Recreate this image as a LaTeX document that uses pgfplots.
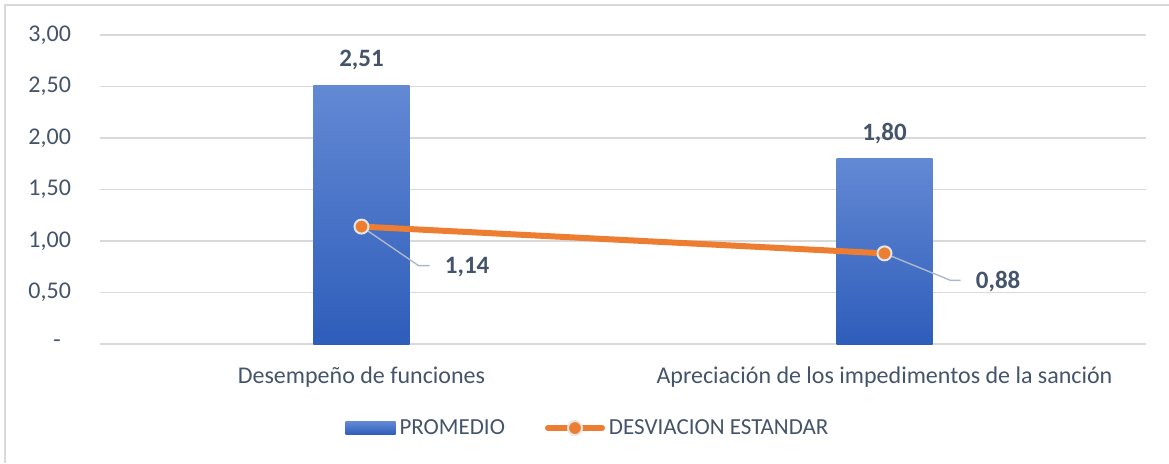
\documentclass[border=0pt]{standalone}
\usepackage{pgfplots}
\pgfplotsset{compat=1.18}
\usepackage{fontspec}
\setmainfont{Carlito}
\definecolor{txt}{HTML}{44546A}
\definecolor{gridc}{HTML}{D9D9D9}
\definecolor{barTop}{HTML}{6389D4}
\definecolor{barBot}{HTML}{2E5DBA}
\definecolor{orng}{HTML}{ED7D31}
\definecolor{lead}{HTML}{ADB9CA}
\begin{document}
\begin{tikzpicture}
\useasboundingbox (0,0) rectangle (584.5pt,231.5pt);
\draw[gridc, line width=0.6pt] (2.5pt,0) -- (2.5pt,229pt) -- (584.5pt,229pt);
\begin{axis}[
    at={(50pt,59.5pt)}, anchor=south west,
    scale only axis,
    width=523pt, height=154.5pt,
    xmin=-0.5, xmax=1.5,
    ymin=0, ymax=3,
    axis line style={draw=none},
    major tick length=0pt,
    ymajorgrids,
    grid style={gridc, line width=0.6pt},
    ytick={0,0.5,1,1.5,2,2.5,3},
    yticklabels={{}, {0,50}, {1,00}, {1,50}, {2,00}, {2,50}, {3,00}},
    yticklabel style={font=\fontsize{12}{14}\selectfont, text=txt, xshift=-11pt},
    xtick={0,1},
    xticklabels={Desempeño de funciones, Apreciación de los impedimentos de la sanción},
    xticklabel style={font=\fontsize{12}{14}\selectfont, text=txt, yshift=-8pt},
    clip=false,
    legend columns=2,
    legend style={at={(0.4675,-0.272)}, anchor=center, draw=none, fill=none,
        font=\fontsize{11.5}{13}\selectfont, text=txt,
        /tikz/every even column/.append style={column sep=18pt}},
    nodes near coords style={font=\bfseries\fontsize{12.5}{14}\selectfont, text=txt},
    /pgf/number format/.cd, fixed, fixed zerofill, precision=2, use comma,
        assume math mode=true,
]
% PROMEDIO
\addplot[ybar, bar width=48pt, draw=none, top color=barTop, bottom color=barBot,
    nodes near coords, nodes near coords style={anchor=base, yshift=9.25pt},
    legend image code/.code={\shade[top color=barTop, bottom color=barBot] (0pt,-3.25pt) rectangle (25pt,3.25pt);}]
    coordinates {(0,2.51)};
\addlegendentry{PROMEDIO}
\addplot[ybar, bar width=48pt, draw=none, top color=barTop, bottom color=barBot,
    nodes near coords, nodes near coords style={anchor=base, yshift=9.25pt}, forget plot]
    coordinates {(1,1.80)};
% DESVIACION ESTANDAR
\addplot[orng, line width=3pt, mark=*, mark size=3.5pt,
    mark options={fill=orng, draw=gray!20, line width=1pt},
    legend image code/.code={
        \draw[orng, line width=3pt, line cap=round] (0pt,0pt) -- (27pt,0pt);
        \draw[fill=orng, draw=gray!20, line width=1pt] (13.5pt,0pt) circle (3.5pt);}]
    coordinates {(0,1.14) (1,0.88)};
\addlegendentry{DESVIACION ESTANDAR}
% zero tick shown as a dash (accounting format)
\node[text=txt, font=\fontsize{12}{14}\selectfont] at ([xshift=-21.5pt]axis cs:-0.5,0) {-};
% leader lines and value labels
\draw[lead, line width=0.7pt] (axis cs:0,1.14) -- ++(28.5pt,-19.5pt) -- ++(5.5pt,0pt);
\node[anchor=west, text=txt, font=\bfseries\fontsize{12.5}{14}\selectfont, inner sep=0pt]
    at ([xshift=41.5pt,yshift=-20pt]axis cs:0,1.14) {1,14};
\draw[lead, line width=0.7pt] (axis cs:1,0.88) -- ++(33pt,-13.5pt) -- ++(5pt,0pt);
\node[anchor=west, text=txt, font=\bfseries\fontsize{12.5}{14}\selectfont, inner sep=0pt]
    at ([xshift=45.5pt,yshift=-14pt]axis cs:1,0.88) {0,88};
\end{axis}
\end{tikzpicture}
\end{document}
